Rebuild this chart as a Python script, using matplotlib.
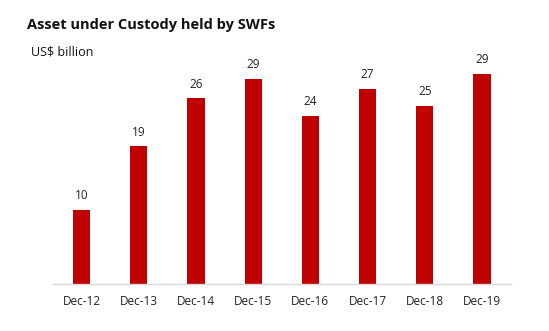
import matplotlib
matplotlib.use("Agg")
import matplotlib.pyplot as plt

categories = ["Dec-12", "Dec-13", "Dec-14", "Dec-15", "Dec-16", "Dec-17", "Dec-18", "Dec-19"]
values = [10.0, 18.6, 25.1, 27.7, 22.7, 26.4, 24.1, 28.4]
value_labels = ["10", "19", "26", "29", "24", "27", "25", "29"]

title = "Asset under Custody held by SWFs"
unit = "US$ billion"

plt.rcParams['font.family'] = ['Open Sans', 'DejaVu Sans']

fig = plt.figure(figsize=(5.49, 3.31), dpi=100)
ax = fig.add_axes([0.0965, 0.142, 0.8335, 0.7154])

x = range(len(categories))
ax.bar(x, values, width=0.3, color="#C00000")
for xi, v, lab in zip(x, values, value_labels):
    ax.annotate(lab, (xi, v), xytext=(0, 5.5), textcoords="offset points",
                ha="center", va="bottom", fontsize=8.5, color="#222222")

ax.set_xlim(-0.5, len(categories) - 0.5)
ax.set_ylim(0, 32)
ax.set_xticks(list(x))
ax.set_xticklabels(categories, fontsize=8.5, color="#222222")
ax.tick_params(axis="x", length=0, pad=8)
ax.set_yticks([])
for s in ["left", "right", "top"]:
    ax.spines[s].set_visible(False)
ax.spines["bottom"].set_color("#d9d9d9")
ax.spines["bottom"].set_linewidth(1)

fig.text(27/549, 1 - 25/331, title, fontsize=10.5, fontweight="bold",
         ha="left", va="center", color="#111111")
fig.text(31/549, 1 - 52/331, unit, fontsize=9, ha="left", va="center", color="#111111")

fig.savefig("out.png", dpi=100, facecolor="white")
